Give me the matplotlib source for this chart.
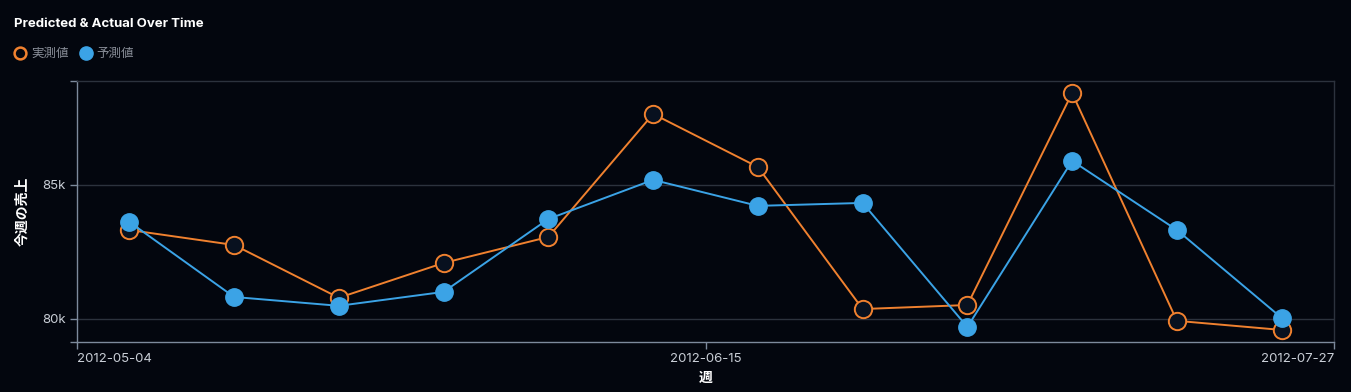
import numpy as np
import pandas as pd
import matplotlib
matplotlib.use('Agg')
import matplotlib.pyplot as plt
from matplotlib.lines import Line2D

plt.rcParams['font.family'] = ['Inter', 'Noto Sans CJK JP', 'DejaVu Sans']

# data (weekly)
weeks = pd.date_range('2012-05-04', periods=12, freq='7D')
actual = [83320, 82760, 80790, 82090, 83060, 87650, 85670, 80370, 80520, 88430, 79930, 79590]
predicted = [83620, 80820, 80490, 81010, 83730, 85190, 84220, 84330, 79700, 85900, 83320, 80040]
tick_dates = ['2012-05-04', '2012-06-15', '2012-07-27']

bg = '#03060e'
orange = '#f0812f'
blue = '#3ba3e6'
grid_c = '#2c323d'
axis_c = '#7d8a9c'
text_c = '#c9ced6'

fig = plt.figure(figsize=(13.51, 3.92), dpi=100, facecolor=bg)
ax = fig.add_axes([77 / 1351, 1 - 342 / 392, (1334 - 77) / 1351, (342 - 81) / 392])
ax.set_facecolor(bg)

# points sit in the middle of each week
xs = weeks + pd.Timedelta(hours=84)
ax.plot(xs, actual, color=orange, lw=1.4, marker='o', ms=12.5,
        mfc='#08111f', mec=orange, mew=1.4, zorder=3)
ax.plot(xs, predicted, color=blue, lw=1.4, marker='o', ms=12.5,
        mfc=blue, mec=blue, mew=1, zorder=4)

ax.set_xlim(pd.Timestamp(tick_dates[0]), pd.Timestamp(tick_dates[-1]))
ax.set_ylim(79140, 88880)

ax.set_xticks([pd.Timestamp(d) for d in tick_dates])
ax.set_xticklabels(tick_dates)
ax.set_yticks([80000, 85000])
ax.set_yticklabels(['80k', '85k'])
ax.set_yticks([79140, 88880], minor=True)
ax.tick_params(axis='y', which='minor', length=5, color=axis_c, width=1)
ax.tick_params(axis='both', which='major', length=5, color=axis_c, width=1,
               labelcolor=text_c, labelsize=9.5, pad=3)
labels = ax.get_xticklabels()
labels[0].set_ha('left')
labels[-1].set_ha('right')

ax.grid(axis='y', color=grid_c, lw=1)
ax.set_axisbelow(True)
for s in ['left', 'bottom']:
    ax.spines[s].set_color(axis_c)
    ax.spines[s].set_linewidth(1)
for s in ['top', 'right']:
    ax.spines[s].set_color(grid_c)
    ax.spines[s].set_linewidth(1)

ax.set_xlabel('週', color='white', fontsize=10, fontweight='bold', labelpad=4)
ax.set_ylabel('今週の売上', color='white', fontsize=10, fontweight='bold', labelpad=9)

fig.text(14 / 1351, 1 - 24 / 392, 'Predicted & Actual Over Time', color='white',
         fontsize=9.5, fontweight='bold', va='center', ha='left')

handles = [
    Line2D([], [], ls='none', marker='o', ms=8.5, mfc='none', mec=orange, mew=1.8),
    Line2D([], [], ls='none', marker='o', ms=9.5, mfc=blue, mec=blue),
]
leg = fig.legend(handles, ['実測値', '予測値'], loc='center left',
                 bbox_to_anchor=(4 / 1351, 1 - 54 / 392), ncol=2, frameon=False,
                 fontsize=9, handlelength=0.8, handletextpad=0.45, columnspacing=1.0,
                 labelcolor='#8a8f99')

fig.savefig('out.png', dpi=100, facecolor=bg)
